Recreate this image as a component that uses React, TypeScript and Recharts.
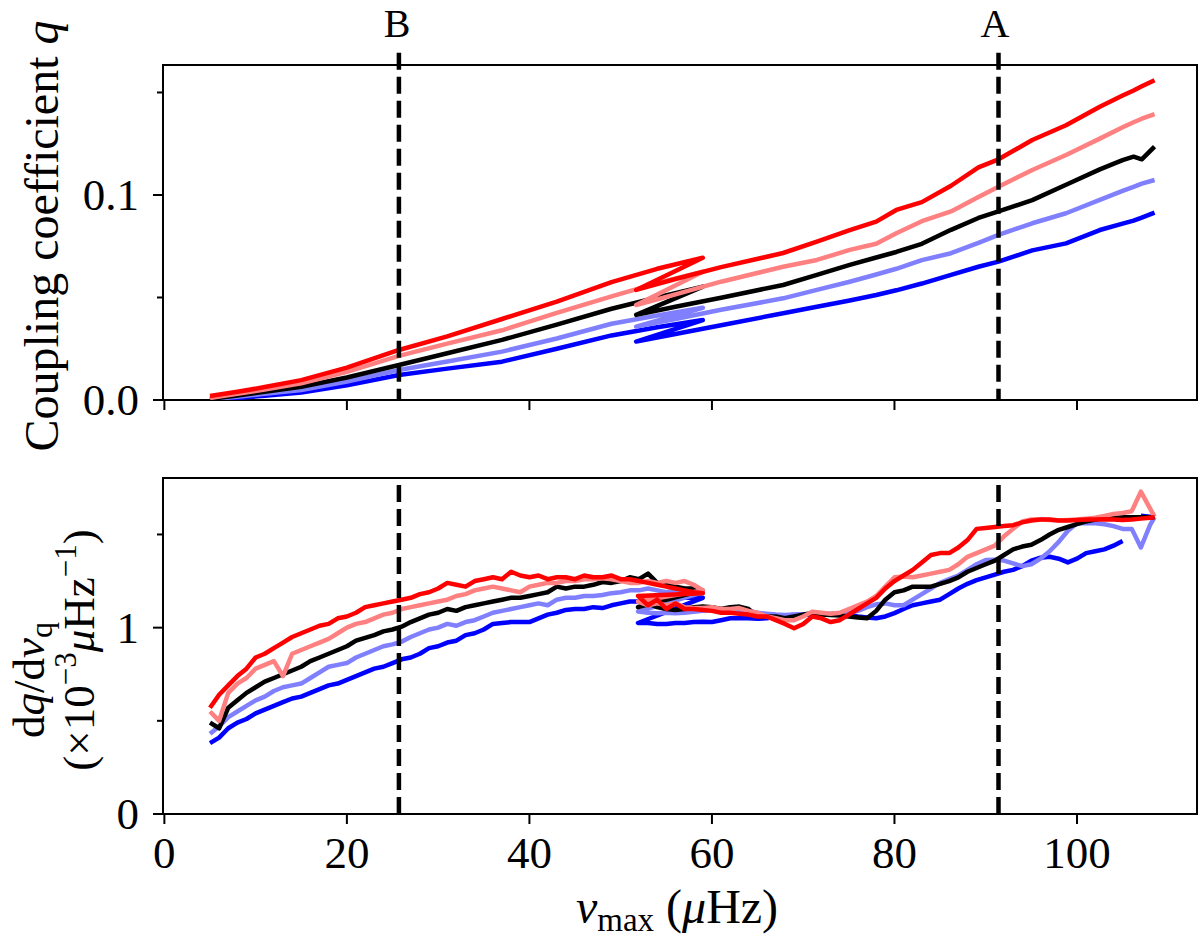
import React from 'react';
import { LineChart, Line, XAxis, YAxis, ReferenceLine, ReferenceArea } from 'recharts';

const FONT = "'Liberation Serif', 'DejaVu Serif', serif";

// ---- top panel: coupling coefficient q ----
const nuQFirst = [5, 8, 11, 15, 20, 25.7, 31, 37, 43, 49, 54, 59];
const nuQSecond = [51.7, 56, 61, 67.8, 71.5, 75.1, 78, 80.2, 83, 86.2, 89.2, 91.4, 95.1, 98.8, 102.5, 105, 106.2, 107.1, 108.5];

const qRed1 = [0.002, 0.004, 0.0063, 0.0097, 0.0158, 0.0244, 0.031, 0.0395, 0.048, 0.0575, 0.064, 0.0694];
const qPink1 = [0.001, 0.003, 0.0051, 0.0081, 0.0137, 0.0215, 0.0275, 0.034, 0.0425, 0.0505, 0.057, 0.0626];
const qBlack1 = [0.0005, 0.0022, 0.004, 0.0065, 0.011, 0.0171, 0.0228, 0.0293, 0.0368, 0.0445, 0.05, 0.0553];
const qLightBlue1 = [0.0003, 0.0016, 0.003, 0.0049, 0.009, 0.0146, 0.0188, 0.0236, 0.03, 0.0372, 0.0412, 0.045];
const qBlue1 = [0, 0.001, 0.0021, 0.0036, 0.0072, 0.0122, 0.0153, 0.0187, 0.025, 0.0315, 0.0355, 0.039];

const qRed2 = [0.0537, 0.059, 0.0648, 0.0717, 0.0772, 0.0829, 0.087, 0.0927, 0.0965, 0.1045, 0.1135, 0.1174, 0.1268, 0.134, 0.143, 0.1485, 0.151, 0.153, 0.156];
const qPink2 = [0.0463, 0.0515, 0.0577, 0.065, 0.0683, 0.0732, 0.0762, 0.0813, 0.0872, 0.092, 0.099, 0.104, 0.1122, 0.1195, 0.1275, 0.133, 0.1355, 0.1372, 0.1394];
const qBlack2 = [0.0415, 0.0455, 0.0499, 0.0561, 0.061, 0.0659, 0.0695, 0.0722, 0.0762, 0.083, 0.0888, 0.092, 0.0975, 0.105, 0.1125, 0.117, 0.1187, 0.1174, 0.1236];
const qLightBlue2 = [0.0358, 0.0395, 0.044, 0.0496, 0.0537, 0.0577, 0.0612, 0.064, 0.0682, 0.0716, 0.0766, 0.0805, 0.0862, 0.0911, 0.0976, 0.102, 0.104, 0.1055, 0.1073];
const qBlue2 = [0.0285, 0.0322, 0.0365, 0.0423, 0.0455, 0.0485, 0.0512, 0.0535, 0.0568, 0.061, 0.065, 0.0675, 0.073, 0.0764, 0.0829, 0.086, 0.0875, 0.089, 0.0914];

// ---- bottom panel: dq/dnu (x 1e-3 per muHz) ----
const nuDFirst = [
  5, 6, 7, 8, 9, 10, 11, 12, 13, 14, 15, 16, 17, 18, 19, 20, 21, 22, 23, 24, 25, 26, 27, 28, 29, 30,
  31, 32, 33, 34, 35, 36, 37, 38, 39, 40, 41, 42, 43, 44, 45, 46, 47, 48, 49, 50, 51, 52, 53, 54, 55, 56, 57, 58, 59,
];
const nuDSecond = [
  51.9, 53, 54, 55, 56, 57, 58, 59, 60, 61, 62, 63, 64, 65, 66, 67, 68, 69, 70, 71, 72, 73, 74, 75, 76, 77, 78, 79, 80,
  81, 82, 83, 84, 85, 86, 87, 88, 89, 90, 91, 92, 93, 94, 95, 96, 97, 98, 99, 100, 101, 102, 103, 104, 105, 106, 107, 108, 108.5,
];

const dRed1 = [
  0.57, 0.64, 0.69, 0.74, 0.78, 0.84, 0.86, 0.89, 0.92, 0.95, 0.97, 0.99, 1.01, 1.02, 1.05, 1.06, 1.08, 1.11, 1.12, 1.13, 1.14, 1.15, 1.16, 1.18, 1.19, 1.21,
  1.24, 1.23, 1.22, 1.25, 1.26, 1.27, 1.26, 1.3, 1.28, 1.27, 1.28, 1.26, 1.27, 1.27, 1.26, 1.28, 1.27, 1.27, 1.28, 1.26, 1.26, 1.25, 1.24, 1.23, 1.22, 1.21, 1.2, 1.19, 1.185,
];
const dPink1 = [
  0.55, 0.5, 0.65, 0.7, 0.73, 0.78, 0.8, 0.82, 0.74, 0.86, 0.88, 0.9, 0.92, 0.94, 0.97, 1.0, 1.02, 1.03, 1.05, 1.07, 1.08, 1.1, 1.11, 1.12, 1.13, 1.14,
  1.15, 1.17, 1.18, 1.2, 1.21, 1.22, 1.21, 1.2, 1.19, 1.22, 1.23, 1.24, 1.24, 1.25, 1.25, 1.26, 1.26, 1.265, 1.26, 1.25, 1.24, 1.24, 1.25, 1.24, 1.25, 1.24, 1.25, 1.23, 1.2,
];
const dBlack1 = [
  0.49, 0.46, 0.57, 0.61, 0.65, 0.68, 0.71, 0.73, 0.75, 0.77, 0.79, 0.82, 0.84, 0.86, 0.88, 0.9, 0.93, 0.945, 0.96, 0.98, 0.99, 1.005, 1.03, 1.05, 1.07, 1.08,
  1.1, 1.09, 1.11, 1.12, 1.13, 1.14, 1.15, 1.16, 1.16, 1.17, 1.18, 1.19, 1.22, 1.21, 1.22, 1.22, 1.23, 1.245, 1.24, 1.25, 1.27, 1.26, 1.29, 1.24, 1.23, 1.22, 1.21, 1.21, 1.2,
];
const dLightBlue1 = [
  0.43, 0.47, 0.52, 0.55, 0.58, 0.61, 0.63, 0.66, 0.68, 0.69, 0.7, 0.73, 0.76, 0.79, 0.8, 0.81, 0.84, 0.86, 0.88, 0.9, 0.91, 0.925, 0.95, 0.97, 0.99, 1.0,
  1.02, 1.01, 1.03, 1.04, 1.06, 1.08, 1.09, 1.1, 1.11, 1.12, 1.13, 1.12, 1.15, 1.16, 1.16, 1.17, 1.17, 1.175, 1.185, 1.19, 1.2, 1.2, 1.21, 1.2, 1.19, 1.2, 1.19, 1.19, 1.19,
];
const dBlue1 = [
  0.38, 0.41, 0.46, 0.49, 0.51, 0.54, 0.56, 0.58, 0.6, 0.62, 0.63, 0.65, 0.67, 0.69, 0.7, 0.72, 0.74, 0.76, 0.78, 0.79, 0.81, 0.83, 0.84, 0.86, 0.89, 0.9,
  0.92, 0.93, 0.96, 0.97, 0.99, 1.02, 1.025, 1.03, 1.03, 1.03, 1.05, 1.07, 1.08, 1.095, 1.1, 1.1, 1.11, 1.105, 1.12, 1.13, 1.14, 1.14, 1.15, 1.15, 1.16, 1.16, 1.16, 1.16, 1.16,
];

const dRed2 = [
  1.17, 1.12, 1.15, 1.1, 1.13, 1.1, 1.1, 1.095, 1.09, 1.08, 1.08, 1.075, 1.07, 1.06, 1.06, 1.04, 1.02, 0.997, 1.02, 1.06, 1.05, 1.03, 1.04, 1.07, 1.1, 1.13, 1.16, 1.21, 1.25,
  1.28, 1.31, 1.35, 1.39, 1.4, 1.4, 1.43, 1.47, 1.53, 1.535, 1.54, 1.545, 1.55, 1.565, 1.575, 1.58, 1.58, 1.575, 1.575, 1.578, 1.58, 1.58, 1.582, 1.58, 1.578, 1.58, 1.585, 1.59, 1.593,
];
const dPink2 = [
  1.14, 1.12, 1.13, 1.12, 1.13, 1.11, 1.105, 1.105, 1.11, 1.1, 1.1, 1.105, 1.09, 1.08, 1.06, 1.05, 1.04, 1.04, 1.06, 1.086, 1.08, 1.075, 1.08, 1.1, 1.12, 1.14, 1.17, 1.22, 1.27,
  1.275, 1.27, 1.28, 1.29, 1.3, 1.31, 1.34, 1.38, 1.4, 1.42, 1.44, 1.49, 1.53, 1.57, 1.58, 1.58, 1.578, 1.575, 1.578, 1.58, 1.585, 1.59, 1.6, 1.61, 1.615, 1.625, 1.73, 1.64, 1.596,
];
const dBlack2 = [
  1.11, 1.13, 1.11, 1.1, 1.095, 1.1, 1.11, 1.113, 1.11, 1.1, 1.11, 1.113, 1.1, 1.06, 1.06, 1.06, 1.05, 1.06, 1.07, 1.077, 1.07, 1.068, 1.065, 1.06, 1.055, 1.05, 1.09, 1.15, 1.19,
  1.2, 1.22, 1.22, 1.22, 1.235, 1.25, 1.27, 1.3, 1.32, 1.34, 1.36, 1.39, 1.42, 1.435, 1.445, 1.47, 1.5, 1.525, 1.54, 1.555, 1.57, 1.58, 1.588, 1.59, 1.592, 1.593, 1.593, 1.593, 1.593,
];
const dLightBlue2 = [
  1.086, 1.08, 1.077, 1.08, 1.077, 1.08, 1.085, 1.09, 1.095, 1.095, 1.09, 1.095, 1.09, 1.08, 1.075, 1.07, 1.068, 1.07, 1.07, 1.075, 1.07, 1.075, 1.075, 1.078, 1.09, 1.11, 1.125, 1.13, 1.12,
  1.12, 1.15, 1.18, 1.21, 1.24, 1.26, 1.28, 1.31, 1.34, 1.363, 1.365, 1.36, 1.345, 1.33, 1.34, 1.37, 1.41, 1.46, 1.52, 1.56, 1.56, 1.56, 1.555, 1.545, 1.53, 1.53, 1.43, 1.55, 1.593,
];
const dBlue2 = [
  1.025, 1.025, 1.02, 1.02, 1.025, 1.025, 1.03, 1.032, 1.03, 1.04, 1.05, 1.05, 1.05, 1.048, 1.05, 1.06, 1.065, 1.068, 1.07, 1.068, 1.07, 1.072, 1.075, 1.068, 1.06, 1.055, 1.05, 1.06, 1.078,
  1.1, 1.12, 1.13, 1.14, 1.15, 1.18, 1.21, 1.235, 1.255, 1.27, 1.285, 1.3, 1.31, 1.33, 1.36, 1.375, 1.38, 1.37, 1.35, 1.37, 1.4, 1.41, 1.42, 1.44, 1.465, null, 1.6, 1.595, 1.593,
];

const nuB = 25.7;
const nuA = 91.4;
const xTicks = [0, 20, 40, 60, 80, 100];
const qTicks = [0, 0.05, 0.1, 0.15];
const qMajor = [0, 0.1];
const dTicks = [0, 0.5, 1, 1.5];
const dMajor = [0, 1];

const colors = { blue: '#0000ff', lightBlue: '#8080ff', black: '#000000', pink: '#ff8080', red: '#ff0000' };

const X_DOMAIN: [number, number] = [-0.15, 113.15];
const Q_TOP = 0.1634;
const D_TOP = 1.803;

const join = (x1: number[], y1: (number | null)[], x2: number[], y2: (number | null)[]) => [
  ...x1.map((x, i) => ({ x, y: y1[i] })),
  ...x2.map((x, i) => ({ x, y: y2[i] })),
];

const topSeries = [
  { key: 'blue', color: colors.blue, data: join(nuQFirst, qBlue1, nuQSecond, qBlue2) },
  { key: 'lightBlue', color: colors.lightBlue, data: join(nuQFirst, qLightBlue1, nuQSecond, qLightBlue2) },
  { key: 'black', color: colors.black, data: join(nuQFirst, qBlack1, nuQSecond, qBlack2) },
  { key: 'pink', color: colors.pink, data: join(nuQFirst, qPink1, nuQSecond, qPink2) },
  { key: 'red', color: colors.red, data: join(nuQFirst, qRed1, nuQSecond, qRed2) },
];

const bottomSeries = [
  { key: 'blue', color: colors.blue, data: join(nuDFirst, dBlue1, nuDSecond, dBlue2) },
  { key: 'lightBlue', color: colors.lightBlue, data: join(nuDFirst, dLightBlue1, nuDSecond, dLightBlue2) },
  { key: 'black', color: colors.black, data: join(nuDFirst, dBlack1, nuDSecond, dBlack2) },
  { key: 'pink', color: colors.pink, data: join(nuDFirst, dPink1, nuDSecond, dPink2) },
  { key: 'red', color: colors.red, data: join(nuDFirst, dRed1, nuDSecond, dRed2) },
];

const makeYTick = (majors: number[], fmt: (v: number) => string) => (props: any) => {
  const { x, y, payload } = props;
  const major = majors.includes(payload.value);
  return (
    <g>
      <line x1={x - (major ? 10 : 6)} x2={x} y1={y} y2={y} stroke="#000" strokeWidth={2} />
      {major && (
        <text x={x - 24} y={y + 15} textAnchor="end" fontSize={45} fontFamily={FONT} fill="#000">
          {fmt(payload.value)}
        </text>
      )}
    </g>
  );
};

const makeXTick = (labels: boolean) => (props: any) => {
  const { x, y, payload } = props;
  return (
    <g>
      <line x1={x} x2={x} y1={y} y2={y + 10} stroke="#000" strokeWidth={2} />
      {labels && (
        <text x={x} y={y + 54} textAnchor="middle" fontSize={45} fontFamily={FONT} fill="#000">
          {payload.value}
        </text>
      )}
    </g>
  );
};

const dash = { stroke: '#000', strokeWidth: 4.5, strokeDasharray: '17 7' };

export default function App() {
  return (
    <div style={{ position: 'absolute', left: 0, top: 0, width: 1200, height: 938, background: '#fff' }}>
      <div style={{ position: 'absolute', left: 0, top: 0 }}>
        <LineChart width={1200} height={938} margin={{ top: 65, left: 63, right: 3, bottom: 478 }}>
          <XAxis
            dataKey="x"
            type="number"
            domain={X_DOMAIN}
            allowDataOverflow
            ticks={xTicks}
            interval={0}
            height={60}
            tickSize={0}
            tickMargin={0}
            axisLine={false}
            tickLine={false}
            tick={makeXTick(false)}
          />
          <YAxis
            type="number"
            domain={[0, Q_TOP]}
            allowDataOverflow
            ticks={qTicks}
            interval={0}
            width={100}
            tickSize={0}
            tickMargin={0}
            axisLine={false}
            tickLine={false}
            tick={makeYTick(qMajor, (v) => v.toFixed(1))}
          />
          {topSeries.map((s) => (
            <Line
              key={s.key}
              data={s.data}
              dataKey="y"
              type="linear"
              stroke={s.color}
              strokeWidth={4.5}
              strokeLinejoin="round"
              dot={false}
              activeDot={false}
              isAnimationActive={false}
            />
          ))}
          <ReferenceLine
            segment={[{ x: nuB, y: Q_TOP + 0.006 }, { x: nuB, y: 0 }]}
            ifOverflow="visible"
            {...dash}
          />
          <ReferenceLine
            segment={[{ x: nuA, y: Q_TOP + 0.006 }, { x: nuA, y: 0 }]}
            ifOverflow="visible"
            {...dash}
          />
          <ReferenceArea
            x1={X_DOMAIN[0]}
            x2={X_DOMAIN[1]}
            y1={0}
            y2={Q_TOP}
            fill="none"
            stroke="#000"
            strokeWidth={2}
            ifOverflow="visible"
          />
        </LineChart>
      </div>
      <div style={{ position: 'absolute', left: 0, top: 0 }}>
        <LineChart width={1200} height={938} margin={{ top: 478, left: 63, right: 3, bottom: 24 }}>
          <XAxis
            dataKey="x"
            type="number"
            domain={X_DOMAIN}
            allowDataOverflow
            ticks={xTicks}
            interval={0}
            height={100}
            tickSize={0}
            tickMargin={0}
            axisLine={false}
            tickLine={false}
            tick={makeXTick(true)}
          />
          <YAxis
            type="number"
            domain={[0, D_TOP]}
            allowDataOverflow
            ticks={dTicks}
            interval={0}
            width={100}
            tickSize={0}
            tickMargin={0}
            axisLine={false}
            tickLine={false}
            tick={makeYTick(dMajor, (v) => String(v))}
          />
          {bottomSeries.map((s) => (
            <Line
              key={s.key}
              data={s.data}
              dataKey="y"
              type="linear"
              stroke={s.color}
              strokeWidth={4.5}
              strokeLinejoin="round"
              dot={false}
              activeDot={false}
              connectNulls={false}
              isAnimationActive={false}
            />
          ))}
          <ReferenceLine x={nuB} {...dash} />
          <ReferenceLine x={nuA} {...dash} />
          <ReferenceArea
            x1={X_DOMAIN[0]}
            x2={X_DOMAIN[1]}
            y1={0}
            y2={D_TOP}
            fill="none"
            stroke="#000"
            strokeWidth={2}
            ifOverflow="visible"
          />
        </LineChart>
      </div>
      <svg
        width={1200}
        height={938}
        style={{ position: 'absolute', left: 0, top: 0, pointerEvents: 'none' }}
        fontFamily={FONT}
        fill="#000"
      >
        <text x={397} y={37} fontSize={40} textAnchor="middle">B</text>
        <text x={995} y={37} fontSize={40} textAnchor="middle">A</text>
        <text x={58} y={236} fontSize={48} textAnchor="middle" transform="rotate(-90 58 236)">
          Coupling coefficient <tspan fontStyle="italic">q</tspan>
        </text>
        <text x={44} y={680} fontSize={45} textAnchor="middle" transform="rotate(-90 44 680)">
          d<tspan fontStyle="italic">q</tspan>/d<tspan fontStyle="italic">ν</tspan>
          <tspan fontSize={32} dy={8}>q</tspan>
        </text>
        <text x={94} y={650} fontSize={45} textAnchor="middle" transform="rotate(-90 94 650)">
          (×10<tspan fontSize={31} dy={-18}>−3</tspan>
          <tspan dy={18} fontStyle="italic">μ</tspan>Hz<tspan fontSize={31} dy={-18}>−1</tspan>
          <tspan dy={18}>)</tspan>
        </text>
        <text x={677} y={923} fontSize={48} textAnchor="middle">
          <tspan fontStyle="italic">ν</tspan>
          <tspan fontSize={33} dy={8}>max</tspan>
          <tspan dy={-8}> (</tspan>
          <tspan fontStyle="italic">μ</tspan>Hz)
        </text>
      </svg>
    </div>
  );
}
